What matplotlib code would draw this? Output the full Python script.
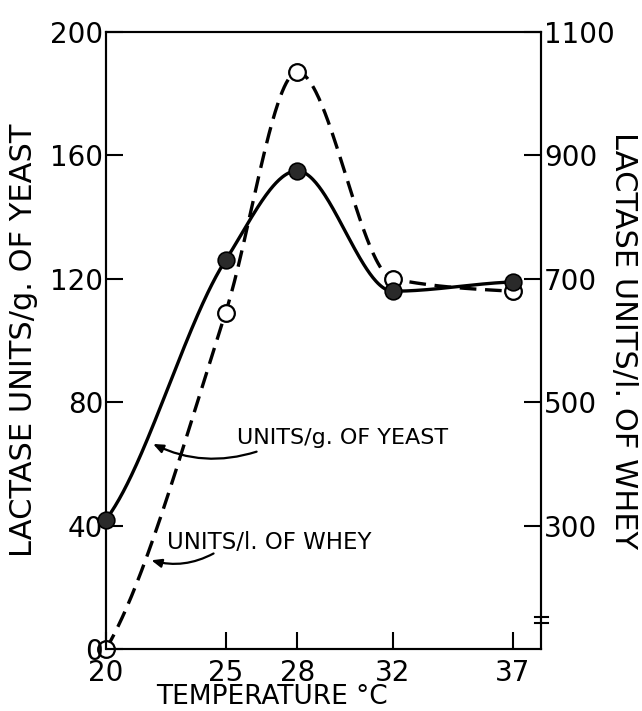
import numpy as np
import matplotlib.pyplot as plt

# =========================================================
# Data
# =========================================================

temps = [20, 25, 28, 32, 37]

units_per_g_yeast = [42, 126, 155, 116, 119]      # left axis, filled dots
units_per_l_whey = [100, 645, 1035, 700, 680]     # right axis, open circles

xticks = [20, 25, 28, 32, 37]
left_ticks = [0, 40, 80, 120, 160, 200]
right_ticks = [300, 500, 700, 900, 1100]

# =========================================================
# Smooth curve through the points (monotone cubic Hermite)
# =========================================================

def smooth(x, y, xs):
    x = np.asarray(x, float)
    y = np.asarray(y, float)
    h = np.diff(x)
    d = np.diff(y) / h
    n = len(x)
    m = np.zeros(n)
    for k in range(1, n - 1):
        if d[k - 1] * d[k] > 0:
            w1 = 2 * h[k] + h[k - 1]
            w2 = h[k] + 2 * h[k - 1]
            m[k] = (w1 + w2) / (w1 / d[k - 1] + w2 / d[k])
    # gentle end slopes, like the hand drawn curves
    m[0] = 0.6 * d[0]
    m[-1] = 0.5 * d[-1]
    idx = np.clip(np.searchsorted(x, xs) - 1, 0, n - 2)
    t = (xs - x[idx]) / h[idx]
    h00 = 2 * t**3 - 3 * t**2 + 1
    h10 = t**3 - 2 * t**2 + t
    h01 = -2 * t**3 + 3 * t**2
    h11 = t**3 - t**2
    return (h00 * y[idx] + h10 * h[idx] * m[idx]
            + h01 * y[idx + 1] + h11 * h[idx] * m[idx + 1])

xs = np.linspace(temps[0], temps[-1], 400)

# =========================================================
# Plot
# =========================================================

plt.rcParams['font.family'] = 'DejaVu Sans'

fig = plt.figure(figsize=(6.42, 7.11), dpi=100)
ax = fig.add_axes([0.165, 0.087, 0.678, 0.868])
ax2 = ax.twinx()

ax.set_xlim(20, 38.2)
ax.set_ylim(0, 200)
ax2.set_ylim(100, 1100)

ax2.plot(xs, smooth(temps, units_per_l_whey, xs), color='black', lw=2.4,
         dashes=(5, 2.6), zorder=2)
ax2.plot(temps, units_per_l_whey, 'o', ms=12, mfc='white', mec='black',
         mew=1.6, clip_on=False, zorder=3)

ax.plot(xs, smooth(temps, units_per_g_yeast, xs), color='black', lw=2.4,
        zorder=2)
ax.plot(temps, units_per_g_yeast, 'o', ms=12, mfc='#2a2a2a', mec='black',
        mew=1.2, clip_on=False, zorder=4)
ax.set_zorder(ax2.get_zorder() + 1)
ax.patch.set_visible(False)

# ticks
ax.set_xticks(xticks)
ax.set_yticks(left_ticks)
ax2.set_yticks(right_ticks)
ax.tick_params(axis='both', direction='in', length=12, width=1.5,
               labelsize=20, pad=2)
ax.tick_params(axis='x', pad=7)
ax2.tick_params(axis='y', direction='in', length=12, width=1.5,
                labelsize=20, pad=2)

for a in (ax, ax2):
    for s in a.spines.values():
        s.set_linewidth(1.5)

ax.set_xlabel('TEMPERATURE °C', fontsize=19, va='center', ha='center')
ax.xaxis.set_label_coords(0.382, -0.078)
ax.set_ylabel('LACTASE UNITS/g. OF YEAST', fontsize=22, va='center',
              ha='center')
ax.yaxis.set_label_coords(-0.19, 0.5)
ax2.set_ylabel('LACTASE UNITS/l. OF WHEY', fontsize=22, rotation=-90,
               va='center', ha='center')
ax2.yaxis.set_label_coords(1.19, 0.5)

# break mark on right axis
ax.plot([0.985, 1.015], [0.052, 0.052], transform=ax.transAxes,
        color='black', lw=1.5, clip_on=False, zorder=5)
ax.plot([0.985, 1.015], [0.042, 0.042], transform=ax.transAxes,
        color='black', lw=1.5, clip_on=False, zorder=5)

# series labels with curved arrows
ax.text(25.5, 68.5, 'UNITS/g. OF YEAST', fontsize=16, va='center')
ax.annotate('', xy=(21.97, 66.5), xytext=(26.3, 64),
            arrowprops=dict(arrowstyle='-|>,head_length=0.6,head_width=0.25',
                            connectionstyle='arc3,rad=-0.2', color='black',
                            lw=1.6, shrinkA=0, shrinkB=0))
ax.text(22.55, 34.7, 'UNITS/l. OF WHEY', fontsize=16.5, va='center')
ax.annotate('', xy=(21.9, 28.8), xytext=(24.5, 31),
            arrowprops=dict(arrowstyle='-|>,head_length=0.6,head_width=0.25',
                            connectionstyle='arc3,rad=-0.2', color='black',
                            lw=1.6, shrinkA=0, shrinkB=0))

fig.savefig('out.png', dpi=100)
